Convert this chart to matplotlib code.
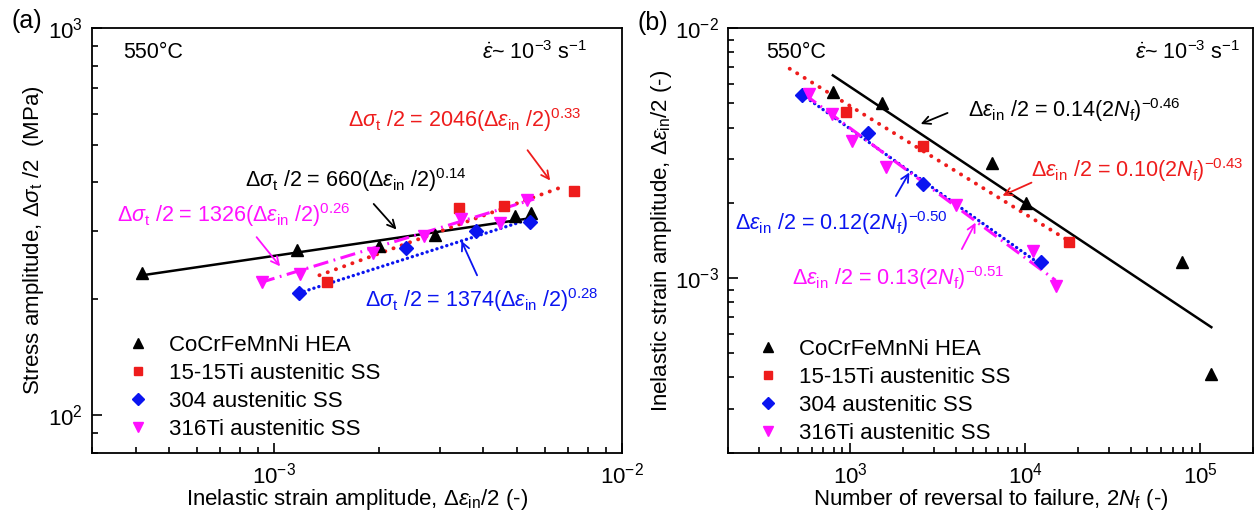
import matplotlib
matplotlib.use('Agg')
import matplotlib.pyplot as plt
from matplotlib.lines import Line2D
from matplotlib.ticker import NullFormatter

plt.rcParams['font.family'] = ['Liberation Sans', 'DejaVu Sans']
plt.rcParams['mathtext.fontset'] = 'custom'
plt.rcParams['mathtext.rm'] = 'Liberation Sans'
plt.rcParams['mathtext.it'] = 'Liberation Sans:italic'
plt.rcParams['mathtext.bf'] = 'Liberation Sans:bold'

# ---- panel (a): stress amplitude vs inelastic strain amplitude ----
hea_a_x = [4.18e-4, 1.16e-3, 2.01e-3, 2.90e-3, 4.92e-3, 5.47e-3]
hea_a_y = [233, 268, 273, 292, 327, 334]
ti15_a_x = [1.42e-3, 3.40e-3, 4.58e-3, 7.28e-3]
ti15_a_y = [221, 343, 347, 380]
ss304_a_x = [1.18e-3, 2.40e-3, 3.80e-3, 5.45e-3]
ss304_a_y = [207, 270, 299, 316]
ti316_a_x = [9.2e-4, 1.19e-3, 1.93e-3, 2.70e-3, 3.44e-3, 4.48e-3, 5.34e-3]
ti316_a_y = [221, 232, 262, 290, 321, 313, 360]

# fitted power-law lines (end points)
hea_a_fit_x = [4.18e-4, 5.6e-3]
hea_a_fit_y = [230, 324]
ti15_a_fit_x = [1.35e-3, 6.9e-3]
ti15_a_fit_y = [230, 392]
ss304_a_fit_x = [1.18e-3, 5.6e-3]
ss304_a_fit_y = [207, 324]
ti316_a_fit_x = [9.1e-4, 5.6e-3]
ti316_a_fit_y = [220, 362]

# ---- panel (b): inelastic strain amplitude vs reversals ----
hea_b_x = [793, 1511, 6436, 1.016e4, 7.9e4, 1.16e5]
hea_b_y = [5.55e-3, 5.01e-3, 2.90e-3, 1.99e-3, 1.16e-3, 4.13e-4]
ti15_b_x = [938, 2585, 1.774e4]
ti15_b_y = [4.61e-3, 3.39e-3, 1.39e-3]
ss304_b_x = [528, 1254, 2585, 1.238e4]
ss304_b_y = [5.43e-3, 3.80e-3, 2.39e-3, 1.16e-3]
ti316_b_x = [580, 785, 1016, 1596, 4028, 1.10e4, 1.49e4]
ti316_b_y = [5.47e-3, 4.54e-3, 3.55e-3, 2.78e-3, 1.96e-3, 1.28e-3, 9.29e-4]

hea_b_fit_x = [793, 1.16e5]
hea_b_fit_y = [6.48e-3, 6.36e-4]
ti15_b_fit_x = [449, 1.77e4]
ti15_b_fit_y = [6.89e-3, 1.41e-3]
ss304_b_fit_x = [528, 1.25e4]
ss304_b_fit_y = [5.43e-3, 1.12e-3]
ti316_b_fit_x = [540, 1.49e4]
ti316_b_fit_y = [5.47e-3, 9.8e-4]

names = ['CoCrFeMnNi HEA', '15-15Ti austenitic SS', '304 austenitic SS', '316Ti austenitic SS']
colors = ['black', '#ee1c1c', '#0a14f0', '#ff10ff']
markers = ['^', 's', 'D', 'v']
msizes = [9, 7.5, 7, 9]
line_styles = ['-', (0, (0.05, 2.2)), (0, (0.05, 1.5)), (0, (5, 1.8, 0.6, 1.8))]
line_widths = [1.8, 2.8, 2.4, 2.2]
cap_styles = ['butt', 'round', 'round', 'butt']

eq_a = [r'$\Delta\sigma_{\rm t}$ /2 = 660($\Delta\varepsilon_{\rm in}$ /2)$^{0.14}$',
        r'$\Delta\sigma_{\rm t}$ /2 = 2046($\Delta\varepsilon_{\rm in}$ /2)$^{0.33}$',
        r'$\Delta\sigma_{\rm t}$ /2 = 1374($\Delta\varepsilon_{\rm in}$ /2)$^{0.28}$',
        r'$\Delta\sigma_{\rm t}$ /2 = 1326($\Delta\varepsilon_{\rm in}$ /2)$^{0.26}$']
eq_b = [r'$\Delta\varepsilon_{\rm in}$ /2 = 0.14(2$N_{\rm f}$)$^{-0.46}$',
        r'$\Delta\varepsilon_{\rm in}$ /2 = 0.10(2$N_{\rm f}$)$^{-0.43}$',
        r'$\Delta\varepsilon_{\rm in}$ /2 = 0.12(2$N_{\rm f}$)$^{-0.50}$',
        r'$\Delta\varepsilon_{\rm in}$ /2 = 0.13(2$N_{\rm f}$)$^{-0.51}$']

# label centre, arrow tail, arrow tip (axes fraction)
eq_a_pos = [((0.498, 0.642), (0.528, 0.591), (0.578, 0.521)),
            ((0.704, 0.784), (0.819, 0.718), (0.868, 0.636)),
            ((0.735, 0.360), (0.729, 0.412), (0.695, 0.505)),
            ((0.268, 0.560), (0.307, 0.513), (0.358, 0.434))]
eq_b_pos = [((0.659, 0.807), (0.423, 0.803), (0.362, 0.772)),
            ((0.780, 0.666), (0.583, 0.639), (0.518, 0.603)),
            ((0.215, 0.541), (0.317, 0.599), (0.348, 0.666)),
            ((0.324, 0.411), (0.443, 0.474), (0.474, 0.548))]

rate_txt = r'$\dot{\varepsilon}$~ 10$^{-3}$ s$^{-1}$'

fig = plt.figure(figsize=(12.6, 5.21), dpi=100)
ax_a = fig.add_axes([0.0733, 0.1311, 0.4201, 0.8146])
ax_b = fig.add_axes([0.5780, 0.1311, 0.4162, 0.8146])


def draw_panel(ax, pts, fits, eqs, eq_pos, leg_anchor):
    for i in range(4):
        fx, fy = fits[i]
        ax.plot(fx, fy, color=colors[i], ls=line_styles[i], lw=line_widths[i],
                dash_capstyle=cap_styles[i], zorder=2)
        px, py = pts[i]
        ax.plot(px, py, ls='none', marker=markers[i], ms=msizes[i],
                color=colors[i], mec=colors[i], zorder=3)
        (tx, ty), tail, tip = eq_pos[i]
        ax.text(tx, ty, eqs[i], transform=ax.transAxes, color=colors[i],
                fontsize=15.5, ha='center', va='center')
        ax.annotate('', xy=tip, xytext=tail, xycoords='axes fraction',
                    arrowprops=dict(arrowstyle='->', color=colors[i], lw=1.3,
                                    mutation_scale=14))
    handles = [Line2D([], [], ls='none', marker=markers[i], ms=msizes[i] * 0.85,
                      color=colors[i]) for i in range(4)]
    ax.legend(handles, names, loc='lower left', bbox_to_anchor=leg_anchor,
              frameon=False, fontsize=16, handlelength=0.9, handletextpad=0.95,
              labelspacing=0.32, borderpad=0, borderaxespad=0)
    ax.set_xscale('log')
    ax.set_yscale('log')
    ax.tick_params(which='both', direction='in', top=False, right=False,
                   labelsize=16, width=1.2)
    ax.tick_params(which='major', length=7, pad=7)
    ax.tick_params(which='minor', length=4)
    ax.xaxis.set_minor_formatter(NullFormatter())
    ax.yaxis.set_minor_formatter(NullFormatter())
    for s in ax.spines.values():
        s.set_linewidth(1.3)


draw_panel(ax_a,
           [(hea_a_x, hea_a_y), (ti15_a_x, ti15_a_y), (ss304_a_x, ss304_a_y), (ti316_a_x, ti316_a_y)],
           [(hea_a_fit_x, hea_a_fit_y), (ti15_a_fit_x, ti15_a_fit_y),
            (ss304_a_fit_x, ss304_a_fit_y), (ti316_a_fit_x, ti316_a_fit_y)],
           eq_a, eq_a_pos, (0.068, 0.03))
ax_a.set_xlim(3e-4, 1e-2)
ax_a.set_ylim(80, 1000)
ax_a.text(0.058, 0.944, '550°C', transform=ax_a.transAxes, fontsize=15.5, va='center')
ax_a.text(0.934, 0.944, rate_txt, transform=ax_a.transAxes, fontsize=15.5,
          va='center', ha='right')
ax_a.set_xlabel(r'Inelastic strain amplitude, $\Delta\varepsilon_{\rm in}$/2 (-)', fontsize=16)
ax_a.set_ylabel(r'Stress amplitude, $\Delta\sigma_{\rm t}$ /2  (MPa)', fontsize=16)
ax_a.xaxis.set_label_coords(0.5, -0.08)
ax_a.xaxis.label.set_va('top')
ax_a.yaxis.set_label_coords(-0.087, 0.5)

draw_panel(ax_b,
           [(hea_b_x, hea_b_y), (ti15_b_x, ti15_b_y), (ss304_b_x, ss304_b_y), (ti316_b_x, ti316_b_y)],
           [(hea_b_fit_x, hea_b_fit_y), (ti15_b_fit_x, ti15_b_fit_y),
            (ss304_b_fit_x, ss304_b_fit_y), (ti316_b_fit_x, ti316_b_fit_y)],
           eq_b, eq_b_pos, (0.057, 0.02))
ax_b.set_xlim(200, 2e5)
ax_b.set_ylim(2e-4, 1e-2)
ax_b.text(0.073, 0.944, '550°C', transform=ax_b.transAxes, fontsize=15.5, va='center')
ax_b.text(0.976, 0.944, rate_txt, transform=ax_b.transAxes, fontsize=15.5,
          va='center', ha='right')
ax_b.set_xlabel(r'Number of reversal to failure, 2$N_{\rm f}$ (-)', fontsize=16)
ax_b.set_ylabel(r'Inelastic strain amplitude, $\Delta\varepsilon_{\rm in}$/2 (-)', fontsize=16)
ax_b.xaxis.set_label_coords(0.5, -0.08)
ax_b.xaxis.label.set_va('top')
ax_b.yaxis.set_label_coords(-0.1035, 0.5)

fig.text(0.0095, 0.960, '(a)', fontsize=18, va='center', ha='left')
fig.text(0.506, 0.956, '(b)', fontsize=18, va='center', ha='left')

fig.savefig('out.png', dpi=100)
